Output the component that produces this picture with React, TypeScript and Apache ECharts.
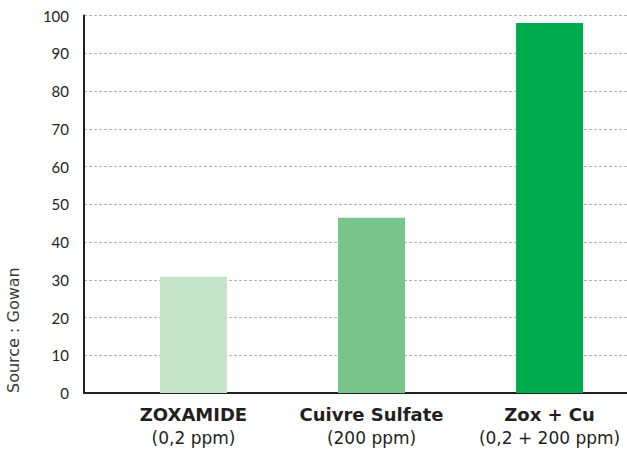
import React, { useEffect, useRef } from "react";
import * as echarts from "echarts";

const categories = ["ZOXAMIDE", "Cuivre Sulfate", "Zox + Cu"];
const doses = ["(0,2 ppm)", "(200 ppm)", "(0,2 + 200 ppm)"];
const values = [30.8, 46.4, 98.0];
const colors = ["#c5e4ca", "#78c58c", "#00ab4e"];
const yTicks = { min: 0, max: 100, interval: 10 };
const sourceText = "Source : Gowan";

export default function App() {
  const ref = useRef<HTMLDivElement>(null);
  useEffect(() => {
    if (!ref.current) return;
    const chart = echarts.init(ref.current, null, { renderer: "svg" });
    const font = "Lato, 'DejaVu Sans', sans-serif";
    const wide = "'DejaVu Sans', sans-serif";
    chart.setOption({
      animation: false,
      textStyle: { fontFamily: font },
      grid: { left: 84, right: 0, top: 15.5, bottom: 59, containLabel: false },
      xAxis: {
        type: "value",
        min: -0.615,
        max: 2.435,
        axisLine: { show: true, onZero: true, lineStyle: { color: "#231f20", width: 2 } },
        axisTick: { show: false },
        axisLabel: { show: false },
        splitLine: { show: false },
      },
      yAxis: {
        type: "value",
        min: yTicks.min,
        max: yTicks.max,
        interval: yTicks.interval,
        axisLine: { show: true, onZero: false, lineStyle: { color: "#231f20", width: 2 } },
        axisTick: { show: false },
        axisLabel: { color: "#231f20", fontSize: 15, margin: 15, fontFamily: font },
        splitLine: { show: true, lineStyle: { color: "#b5b5b5", type: [3, 2], width: 1 } },
      },
      series: [
        {
          type: "bar",
          barWidth: 67,
          data: values.map((v, i) => ({
            value: [i, v],
            itemStyle: { color: colors[i] },
          })),
          label: {
            show: true,
            position: "bottom",
            distance: 10,
            formatter: (p: any) => `{b|${categories[p.dataIndex]}}\n{r|${doses[p.dataIndex]}}`,
            rich: {
              b: { fontSize: 18, fontWeight: "bold", color: "#231f20", lineHeight: 23, fontFamily: wide },
              r: { fontSize: 17, color: "#231f20", lineHeight: 23, fontFamily: wide },
            },
          },
        },
      ],
      graphic: [
        {
          type: "text",
          x: 13,
          y: 393,
          rotation: Math.PI / 2,
          style: {
            text: sourceText,
            fontSize: 16,
            fill: "#3a3a3a",
            fontFamily: wide,
            align: "left",
            verticalAlign: "middle",
          },
        },
      ],
    });
    return () => chart.dispose();
  }, []);
  return (
    <div
      ref={ref}
      style={{ position: "fixed", left: 0, top: 0, width: 627, height: 452, background: "#fff" }}
    />
  );
}
